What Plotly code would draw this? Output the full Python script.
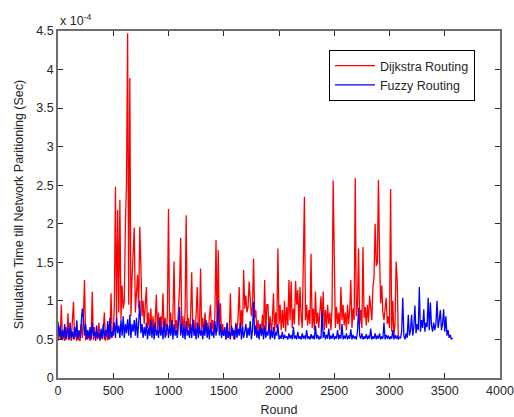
import plotly.graph_objects as go

# Values in units of 1e-4 seconds, sampled every 10 rounds
STEP = 10
dijkstra = [
    0.48, 0.62, 0.50, 0.95, 0.49, 0.58, 0.48, 0.66, 0.50, 0.84,
    0.49, 0.60, 0.48, 0.72, 0.99, 0.50, 0.64, 0.48, 0.56, 0.50,
    0.48, 0.70, 0.52, 0.80, 1.27, 0.49, 0.62, 0.50, 0.58, 0.48,
    0.55, 1.12, 0.49, 0.66, 0.48, 0.60, 0.50, 0.72, 0.48, 0.57,
    0.50, 0.64, 0.85, 0.48, 0.62, 0.49, 0.70, 0.50, 1.10, 0.52,
    0.60, 0.95, 2.48, 0.70, 2.18, 0.85, 2.31, 0.75, 1.20, 0.90,
    1.00, 2.00, 2.53, 4.47, 0.95, 3.89, 0.80, 1.30, 1.62, 1.95,
    0.85, 1.05, 1.34, 0.90, 1.96, 1.47, 0.80, 1.00, 0.70, 0.95,
    1.18, 0.65, 0.85, 0.55, 0.90, 0.60, 0.80, 0.58, 0.75, 1.08,
    0.62, 0.85, 0.58, 0.80, 0.65, 1.10, 0.60, 0.78, 0.55, 0.82,
    2.19, 0.60, 0.85, 0.58, 0.80, 1.51, 0.62, 0.75, 0.55, 0.90,
    1.17, 1.82, 0.65, 0.80, 0.60, 0.85, 2.11, 0.62, 0.78, 0.58,
    0.80, 1.37, 0.60, 0.75, 0.55, 0.82, 1.18, 0.65, 0.58, 1.42,
    0.62, 0.78, 0.55, 0.85, 0.60, 0.72, 0.58, 0.80, 0.95, 0.60,
    0.75, 0.58, 0.82, 1.79, 0.60, 1.66, 0.62, 0.97, 0.55, 0.70,
    0.55, 0.62, 0.50, 0.70, 0.52, 0.60, 1.10, 0.55, 0.65, 0.50,
    0.58, 0.72, 0.55, 0.80, 1.18, 0.65, 0.88, 0.60, 1.40, 0.90,
    1.07, 0.85, 0.92, 1.25, 0.95, 0.80, 0.93, 1.55, 0.78, 0.88,
    0.60, 0.75, 0.55, 0.70, 0.58, 0.82, 0.60, 1.27, 0.55, 0.95,
    0.95, 0.62, 0.80, 0.58, 0.75, 1.10, 0.60, 0.85, 0.65, 1.68,
    0.70, 0.95, 0.62, 0.88, 0.65, 1.00, 0.60, 0.92, 0.68, 1.27,
    0.75, 1.25, 0.65, 0.90, 0.70, 1.26, 0.95, 1.14, 0.68, 1.18,
    0.80, 0.65, 1.49, 2.35, 0.75, 0.95, 0.68, 0.88, 0.70, 1.61,
    0.65, 0.90, 0.62, 1.12, 0.70, 0.85, 0.65, 0.92, 1.06, 0.68,
    1.12, 0.62, 0.88, 0.65, 0.95, 0.70, 0.85, 0.62, 0.90, 2.56,
    1.80, 0.65, 0.92, 0.70, 0.85, 0.62, 1.18, 0.75, 0.95, 0.68,
    0.85, 0.62, 0.95, 0.70, 0.88, 1.27, 0.65, 0.90, 0.75, 2.59,
    0.80, 0.95, 1.68, 0.70, 0.88, 0.65, 1.70, 0.78, 0.92, 0.68,
    0.95, 0.72, 1.07, 0.85, 0.75, 1.18, 1.30, 2.00, 1.45, 1.50,
    2.57, 1.57, 0.97, 1.20, 0.85, 0.75, 0.90, 1.04, 0.70, 0.80,
    0.65, 2.45, 0.60, 1.00, 0.55, 0.70, 1.51, 1.26, 0.50,
]
fuzzy = [
    0.73, 0.55, 0.68, 0.50, 0.62, 0.52, 0.70, 0.50, 0.58, 0.65,
    0.50, 0.72, 0.52, 0.60, 0.50, 0.66, 0.54, 0.75, 0.50, 0.62,
    0.52, 0.68, 0.90, 0.78, 0.55, 0.70, 0.50, 0.62, 0.52, 0.66,
    0.50, 0.72, 0.55, 0.60, 0.50, 0.68, 0.52, 0.58, 0.50, 0.64,
    0.52, 0.70, 0.50, 0.62, 0.55, 0.74, 0.50, 0.78, 0.52, 0.60,
    0.55, 0.72, 0.52, 0.78, 0.58, 0.68, 0.52, 0.75, 0.55, 0.80,
    0.52, 0.70, 0.58, 0.76, 0.55, 0.82, 0.52, 0.70, 0.60, 0.75,
    0.55, 0.78, 0.52, 0.72, 1.00, 0.58, 0.70, 0.52, 0.66, 0.55,
    0.72, 0.50, 0.65, 0.55, 0.75, 0.52, 0.68, 0.50, 0.72, 0.55,
    0.62, 0.52, 0.78, 0.55, 0.66, 0.50, 0.74, 0.52, 0.60, 0.70,
    0.52, 0.68, 0.55, 0.75, 0.50, 0.70, 0.55, 0.62, 0.52, 0.72,
    0.92, 0.55, 0.70, 0.52, 0.66, 0.50, 0.74, 0.55, 0.62, 0.52,
    0.70, 0.52, 0.76, 0.55, 0.64, 0.50, 0.72, 0.52, 0.68, 0.55,
    0.62, 0.50, 0.70, 0.55, 0.75, 0.52, 0.66, 0.50, 0.72, 0.55,
    0.60, 0.52, 0.74, 0.55, 0.68, 1.00, 0.55, 0.70, 0.52, 0.62,
    0.55, 0.66, 0.50, 0.72, 0.52, 0.60, 0.50, 0.68, 0.55, 0.62,
    0.50, 0.70, 0.52, 0.64, 0.55, 0.72, 0.50, 0.66, 0.52, 0.60,
    0.70, 0.52, 0.65, 0.55, 0.74, 0.50, 0.62, 0.99, 0.55, 0.68,
    0.52, 0.62, 0.50, 0.70, 0.55, 0.64, 0.50, 0.68, 0.52, 0.60,
    0.55, 0.72, 0.50, 0.62, 0.52, 0.66, 0.50, 0.60, 0.55, 0.70,
    0.50, 0.55, 0.51, 0.60, 0.50, 0.56, 0.52, 0.54, 0.50, 0.58,
    0.51, 0.56, 0.50, 0.66, 0.51, 0.55, 0.50, 0.60, 0.51, 0.54,
    0.50, 0.58, 0.51, 0.55, 0.50, 0.62, 0.51, 0.54, 0.50, 0.57,
    0.51, 0.55, 0.50, 0.68, 0.51, 0.56, 0.50, 0.54, 0.51, 0.87,
    0.52, 0.60, 0.50, 0.56, 0.51, 0.64, 0.50, 0.55, 0.51, 0.58,
    0.50, 0.54, 0.51, 0.62, 0.50, 0.56, 0.51, 0.70, 0.50, 0.55,
    0.51, 0.58, 0.50, 0.55, 0.51, 0.63, 0.50, 0.56, 0.51, 0.54,
    0.50, 0.60, 0.91, 0.55, 0.51, 0.58, 0.50, 0.54, 0.51, 0.57,
    0.50, 0.55, 0.51, 0.64, 0.50, 0.54, 0.51, 0.58, 0.50, 0.55,
    0.51, 0.58, 0.50, 0.54, 0.51, 0.72, 0.50, 0.56, 0.51, 0.55,
    0.50, 0.54, 0.51, 0.62, 0.50, 0.56, 0.51, 0.55, 0.50, 0.53,
    0.52, 0.60, 1.04, 0.55, 0.50, 0.58, 0.52, 0.82, 0.55, 0.62,
    0.82, 0.55, 0.66, 0.94, 0.58, 0.70, 0.62, 1.18, 0.60, 0.75,
    0.65, 0.89, 0.60, 0.72, 0.66, 1.04, 0.62, 0.98, 0.68, 0.60,
    0.72, 0.62, 0.70, 1.00, 0.65, 0.75, 0.88, 0.62, 0.70, 0.89,
    0.60, 0.80, 0.55, 0.62, 0.52, 0.56, 0.50, 0.52,
]
x_ticks = [0, 500, 1000, 1500, 2000, 2500, 3000, 3500, 4000]
y_ticks = [0, 0.5, 1, 1.5, 2, 2.5, 3, 3.5, 4, 4.5]

rounds_d = list(range(0, STEP * len(dijkstra), STEP))
rounds_f = list(range(0, STEP * len(fuzzy), STEP))

FONT = "Liberation Sans, Arial, sans-serif"
TXT = "#262626"

fig = go.Figure()
fig.add_trace(go.Scatter(x=rounds_d, y=dijkstra, mode="lines", name="Dijkstra Routing",
                         line=dict(color="#ff0000", width=1.3)))
fig.add_trace(go.Scatter(x=rounds_f, y=fuzzy, mode="lines", name="Fuzzy Routing",
                         line=dict(color="#0000ff", width=1.3)))

axis_common = dict(showgrid=False, zeroline=False, showline=True, linecolor="#6e6e6e",
                   linewidth=1.5, mirror="ticks", ticks="inside", ticklen=5,
                   tickcolor=TXT, tickwidth=1, automargin=False,
                   tickfont=dict(family=FONT, size=12.5, color=TXT))

fig.update_xaxes(range=[0, 4000], tickvals=x_ticks,
                 title=dict(text="Round", font=dict(family=FONT, size=12.5, color=TXT), standoff=8),
                 **axis_common)
fig.update_yaxes(range=[0, 4.5], tickvals=y_ticks,
                 title=dict(text="Simulation Time till Network Paritioning (Sec)",
                            font=dict(family=FONT, size=12.5, color=TXT), standoff=10),
                 **axis_common)

fig.add_annotation(xref="paper", yref="paper", x=0, y=1, xanchor="left", yanchor="bottom",
                   text="x 10<sup>-4</sup>", showarrow=False, yshift=1,
                   font=dict(family=FONT, size=12.5, color=TXT))

fig.update_layout(
    width=514, height=417,
    margin=dict(l=58, r=14, t=31, b=39),
    paper_bgcolor="white", plot_bgcolor="white",
    showlegend=True,
    legend=dict(x=0.613, y=0.945, xanchor="left", yanchor="top",
                bgcolor="white", bordercolor="#000000", borderwidth=1,
                font=dict(family=FONT, size=12.5, color=TXT),
                itemwidth=40, tracegroupgap=0),
)

fig.write_html("out.html", config={"displayModeBar": False},
               post_script="document.body.style.margin='0';document.body.style.overflow='hidden';")
